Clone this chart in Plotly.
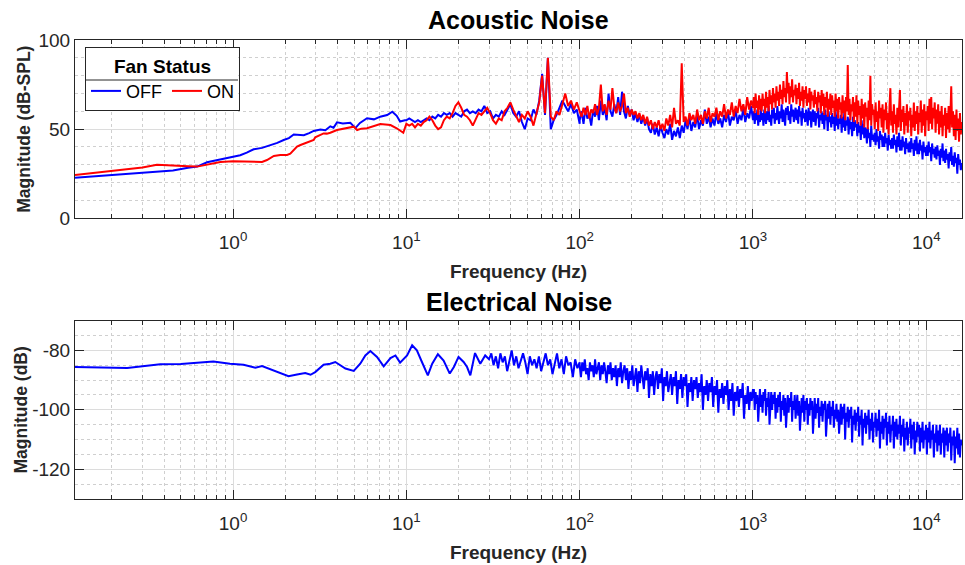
import numpy as np
import plotly.graph_objects as go

# ---------------- Acoustic noise : fan OFF ----------------
ac_off_low_f = [0.1225, 0.2, 0.3, 0.364, 0.45, 0.55, 0.62, 0.708, 0.845, 1.0, 1.1, 1.2, 1.315,
                1.47, 1.64, 1.8, 1.96, 2.1, 2.24, 2.45, 2.56, 2.75, 2.92, 3.19, 3.41, 3.64, 3.8,
                3.98, 4.3, 4.75, 5.08, 5.4, 5.93, 6.5, 7.07, 7.75, 8.3, 8.8, 9.2, 9.8]
ac_off_low = [22.8, 24.2, 25.3, 25.8, 26.8, 28.3, 29.0, 31.4, 33.1, 34.5, 35.4, 36.8, 38.7,
              39.5, 41.0, 42.3, 43.9, 45.0, 47.0, 46.7, 46.6, 47.8, 49.0, 49.8, 49.4, 51.6, 50.8,
              53.8, 53.2, 53.6, 50.6, 53.5, 56.1, 55.5, 57.0, 57.9, 59.8, 57.5, 54.3, 55.0]
# 10 Hz -> 100 Hz
ac_off_b = [55, 56, 55, 54, 55, 54, 55, 56, 55, 57, 56, 58, 57, 59, 58, 59, 57, 59, 58, 57,
            60, 61, 59, 60, 59, 61, 60, 63, 59, 60, 56, 58, 57, 60, 58, 61, 64, 59, 57, 60,
            54, 50, 56, 55, 61, 58, 66, 81, 58, 90, 50, 55, 58, 62, 66, 63, 60, 64, 59, 61, 53]
# 100 Hz -> 1 kHz
ac_off_c = [55, 60, 53, 62, 56, 58, 52, 61, 57, 63, 55,
            66, 58, 62, 55, 70, 60, 57, 64, 59, 68,
            58, 71, 60, 56, 63, 58, 61, 55, 59, 54,
            58, 53, 57, 52, 56, 50, 48, 53, 47, 51,
            46, 52, 48, 45, 50, 47, 53, 44, 49, 46,
            51, 45, 52, 48, 55, 50, 57, 49, 54, 51,
            58, 50, 55, 52, 61, 53, 57, 51, 56, 52,
            59, 53, 56, 51, 58, 54, 60, 52, 57, 55,
            61, 53, 58, 55, 62, 54, 59, 56, 63, 55]
# 1 kHz -> 16 kHz
ac_off_d = [56, 60, 53, 59, 55, 61, 52, 58, 54, 62,
            55, 59, 52, 61, 57, 53, 60, 55, 63, 54,
            58, 52, 61, 56, 62, 53, 59, 55, 63, 57,
            53, 60, 56, 64, 54, 61, 57, 52, 62, 58,
            63, 55, 60, 53, 64, 57, 61, 54, 59, 62,
            55, 61, 53, 63, 57, 60, 52, 62, 56, 59,
            54, 61, 57, 52, 62, 55, 60, 51, 58, 61,
            54, 60, 52, 59, 56, 62, 51, 58, 55, 60,
            53, 59, 50, 61, 55, 58, 49, 60, 54, 57,
            51, 59, 53, 57, 49, 60, 52, 58, 50, 56,
            53, 58, 48, 57, 51, 59, 49, 55, 52, 57,
            47, 56, 50, 54, 46, 57, 49, 55, 51, 53,
            46, 54, 48, 52, 44, 55, 47, 53, 45, 51,
            49, 42, 51, 45, 48, 40, 52, 44, 47, 43,
            48, 41, 50, 43, 46, 39, 49, 44, 47, 40,
            46, 40, 48, 42, 45, 38, 47, 41, 44, 39,
            45, 39, 47, 41, 44, 37, 46, 40, 48, 38,
            44, 38, 46, 40, 43, 36, 45, 39, 42, 37,
            43, 37, 45, 39, 42, 35, 44, 38, 46, 36,
            42, 36, 44, 38, 41, 33, 43, 37, 40, 35,
            41, 35, 43, 37, 40, 32, 42, 36, 39, 34,
            40, 33, 41, 35, 38, 30, 39, 34, 42, 32,
            38, 31, 39, 33, 36, 28, 37, 32, 40, 30,
            35, 29, 37, 31, 34, 25, 36, 30, 33, 27, 31]

# ---------------- Acoustic noise : fan ON ----------------
ac_on_low_f = [0.1225, 0.2, 0.3, 0.364, 0.45, 0.55, 0.62, 0.708, 0.845, 1.0, 1.1, 1.315, 1.47,
               1.57, 1.72, 1.875, 2.05, 2.14, 2.34, 2.45, 2.67, 2.92, 2.98, 3.33, 3.48, 3.64,
               3.98, 4.5, 4.97, 5.2, 5.5, 5.93, 6.5, 7.07, 8.1, 8.8, 9.6]
ac_on_low = [24.3, 26.5, 28.5, 30.0, 29.8, 29.2, 29.0, 30.2, 31.6, 32.0, 31.8, 31.5, 31.6,
             32.7, 35.0, 35.5, 35.5, 36.2, 40.2, 41.1, 42.4, 43.9, 45.4, 47.6, 47.5, 48.0,
             49.5, 50.6, 51.4, 49.5, 50.3, 50.5, 51.8, 52.9, 52.3, 50.5, 48.0]
ac_on_b = [53, 52, 53, 51, 53, 52, 54, 55, 57, 55, 52, 50, 51, 55, 57, 56, 59, 63, 65, 62,
           58, 57, 55, 52, 56, 59, 58, 60, 62, 59, 55, 53, 56, 55, 60, 62, 65, 61, 57, 54,
           58, 56, 60, 57, 52, 59, 65, 80, 59, 90, 57, 55, 60, 58, 64, 70, 63, 66, 61, 65, 60]
ac_on_c = [60, 57, 62, 58, 63, 56, 61, 59, 64, 58, 62,
           75, 60, 64, 58, 66, 61, 73, 62, 59, 65,
           60, 63, 70, 59, 62, 57, 61, 58, 60, 56,
           59, 55, 58, 53, 57, 52, 55, 50, 54, 51,
           55, 50, 53, 49, 56, 52, 58, 51, 62, 53,
           55, 52, 87, 54, 57, 52, 59, 55, 58, 53,
           61, 55, 58, 53, 60, 56, 62, 54, 59, 57,
           62, 55, 60, 57, 64, 56, 61, 58, 65, 57,
           63, 59, 67, 60, 64, 58, 68, 61, 66, 62]
ac_on_d = [63, 68, 59, 70, 62, 66, 58, 69, 61, 67,
           60, 70, 63, 67, 59, 71, 62, 68, 60, 72,
           64, 69, 61, 73, 65, 70, 62, 74, 66, 71,
           63, 75, 67, 72, 64, 77, 68, 73, 65, 82,
           70, 76, 64, 74, 68, 78, 65, 72, 69, 75,
           64, 73, 67, 76, 63, 71, 66, 74, 62, 72,
           67, 74, 63, 70, 65, 73, 61, 71, 66, 69,
           62, 72, 64, 68, 60, 71, 65, 69, 59, 72,
           63, 70, 58, 68, 62, 71, 57, 67, 61, 70,
           58, 69, 62, 66, 57, 70, 60, 67, 56, 68,
           61, 65, 56, 69, 59, 66, 55, 68, 60, 86,
           58, 67, 55, 64, 60, 68, 54, 65, 57, 69,
           53, 66, 58, 63, 52, 67, 56, 64, 51, 65,
           57, 62, 50, 66, 55, 80, 52, 64, 58, 61,
           50, 65, 54, 60, 49, 66, 56, 62, 51, 64,
           48, 61, 55, 65, 50, 59, 47, 63, 73, 52,
           60, 48, 64, 53, 58, 47, 62, 51, 65, 72,
           49, 61, 54, 63, 47, 59, 52, 64, 48, 60,
           55, 62, 46, 58, 51, 65, 49, 60, 53, 63,
           47, 59, 54, 66, 48, 61, 52, 64, 46, 60,
           55, 63, 49, 67, 53, 68, 50, 62, 56, 65,
           48, 61, 53, 64, 47, 60, 51, 63, 46, 58,
           52, 62, 45, 59, 50, 63, 48, 57, 74, 51,
           60, 46, 58, 44, 61, 49, 56, 43, 59, 47, 54]

# ---------------- Electrical noise ----------------
el_low_f = [0.1225, 0.245, 0.38, 0.5, 0.77, 0.96, 1.15, 1.345, 1.47, 1.72, 2.09, 2.34, 2.61,
            2.8, 2.98, 3.33, 3.64, 3.89, 4.45, 4.97, 5.42, 5.8, 6.2, 6.77, 7.4, 8.1, 8.65, 9.2,
            10.1, 10.8, 11.5, 12.3, 13.3, 14.1, 15.2, 16.4, 17.8, 18.8, 20.0, 21.4, 22.4, 23.4,
            24.9, 26.7, 28.5]
el_low = [-85.6, -85.9, -84.7, -84.6, -83.7, -84.5, -84.8, -85.8, -85.3, -86.7, -88.7, -88.1,
          -87.6, -88.2, -87.3, -84.8, -84.5, -83.9, -86.1, -86.9, -84.5, -81.7, -80.2, -82.2,
          -85.4, -82.6, -81.7, -84.1, -81.7, -78.3, -80.0, -83.9, -88.4, -84.5, -81.3, -83.4,
          -87.8, -85.6, -82.2, -83.9, -85.6, -88.4, -80.9, -84.5, -81.7]
# 30 Hz -> 100 Hz
el_b = [-83, -81, -85, -82, -86, -81, -84, -82, -87, -83,
        -80, -85, -82, -86, -83, -81, -84, -88, -82, -85,
        -83, -86, -82, -87, -84, -81, -85, -83, -88, -84,
        -81, -86, -83, -88, -82, -85, -84, -89, -83, -86, -84]
# 100 Hz -> 1 kHz
el_c = [-85, -89, -84, -87, -83, -88, -86, -90, -84, -87,
        -85, -89, -83, -88, -86, -84, -90, -85, -88, -84,
        -87, -91, -85, -88, -84, -90, -86, -89, -85, -92,
        -86, -89, -84, -91, -87, -85, -90, -86, -93, -87,
        -90, -85, -92, -88, -86, -94, -87, -91, -85, -89,
        -93, -87, -90, -86, -96, -88, -92, -87, -95, -89,
        -87, -93, -88, -91, -86, -97, -89, -92, -87, -94,
        -90, -88, -95, -89, -92, -87, -98, -90, -93, -88,
        -96, -89, -92, -88, -99, -91, -94, -89, -97, -90,
        -93, -89, -96, -91, -94, -88, -100, -92, -95, -90,
        -97, -91, -94, -89, -99, -92, -95, -90, -101, -93,
        -96, -91, -98, -92, -95, -90, -100, -93, -97, -91,
        -102, -94, -97, -92, -99, -93, -96, -91, -103, -95,
        -98, -92, -100, -94, -97, -93]
# 1 kHz -> 16 kHz
el_d = [-96, -93, -100, -94, -98, -95, -104, -96, -93, -99,
        -95, -101, -94, -97, -93, -102, -96, -99, -94, -105,
        -97, -94, -100, -95, -98, -94, -103, -96, -101, -95,
        -99, -94, -104, -97, -100, -95, -102, -96, -106, -98,
        -95, -101, -96, -99, -94, -104, -97, -100, -95, -103,
        -98, -95, -102, -97, -107, -99, -96, -101, -95, -104,
        -97, -100, -96, -105, -98, -102, -96, -100, -97, -108,
        -99, -96, -103, -98, -101, -96, -106, -99, -102, -97,
        -104, -98, -100, -97, -109, -101, -98, -103, -97, -105,
        -99, -102, -97, -106, -100, -103, -98, -104, -100, -108,
        -101, -98, -105, -99, -103, -98, -110, -101, -104, -99,
        -106, -100, -103, -99, -111, -102, -105, -100, -107, -101,
        -104, -99, -109, -102, -105, -100, -112, -103, -106, -101,
        -108, -102, -105, -100, -110, -103, -107, -101, -111, -104,
        -106, -101, -109, -103, -107, -100, -113, -104, -108, -102,
        -110, -103, -106, -101, -112, -104, -108, -102, -111, -105,
        -107, -102, -113, -104, -109, -103, -110, -105, -108, -102,
        -112, -105, -109, -103, -114, -106, -110, -104, -112, -106,
        -108, -103, -113, -105, -110, -104, -115, -107, -111, -104,
        -109, -105, -114, -106, -111, -104, -113, -107, -110, -105,
        -115, -106, -111, -104, -113, -107, -110, -105, -116, -108,
        -111, -105, -114, -107, -112, -105, -115, -108, -111, -106,
        -116, -107, -112, -106, -114, -108, -111, -106, -117, -109,
        -112, -107, -118, -109, -113, -106, -115, -108, -116, -110, -112]

x_tick_vals = [1, 10, 100, 1000, 10000]
x_tick_text = ["10<sup>0</sup>", "10<sup>1</sup>", "10<sup>2</sup>", "10<sup>3</sup>", "10<sup>4</sup>"]
ac_tick_vals = [0, 50, 100]
ac_tick_text = ["0", "50", "100"]
el_tick_vals = [-120, -100, -80]
el_tick_text = ["-120", "-100", "-80"]


def seg(f0, f1, vals):
    return list(np.geomspace(f0, f1, len(vals)))


x_off = ac_off_low_f + seg(10, 100, ac_off_b) + seg(100, 1000, ac_off_c) + seg(1000, 16000, ac_off_d)
y_off = ac_off_low + ac_off_b + ac_off_c + ac_off_d
x_on = ac_on_low_f + seg(10, 100, ac_on_b) + seg(100, 1000, ac_on_c) + seg(1000, 16000, ac_on_d)
y_on = ac_on_low + ac_on_b + ac_on_c + ac_on_d
x_el = el_low_f + seg(30, 100, el_b) + seg(100, 1000, el_c) + seg(1000, 16000, el_d)
y_el = el_low + el_b + el_c + el_d

FONT = "Arial, Liberation Sans, sans-serif"
AX = "#262626"
GRID = "#DCDCDC"
MGRID = "#CFCFCF"
LW = 2.0

fig = go.Figure()
fig.add_trace(go.Scatter(x=x_off, y=y_off, mode="lines", name="OFF",
                         line=dict(color="#0000FF", width=LW), xaxis="x", yaxis="y"))
fig.add_trace(go.Scatter(x=x_on, y=y_on, mode="lines", name="ON",
                         line=dict(color="#FF0000", width=LW), xaxis="x", yaxis="y"))
fig.add_trace(go.Scatter(x=x_el, y=y_el, mode="lines", name="Electrical", showlegend=False,
                         line=dict(color="#0000FF", width=LW), xaxis="x2", yaxis="y2"))

minor_x = [m * 10.0 ** e for e in range(-1, 5) for m in range(2, 10)]

xcommon = dict(type="log", range=[np.log10(0.1225), np.log10(16070)],
               tickmode="array", tickvals=x_tick_vals, ticktext=x_tick_text,
               ticks="inside", ticklen=9, tickwidth=1, tickcolor=AX,
               showline=True, linecolor=AX, linewidth=1, mirror="ticks",
               showgrid=True, gridcolor=GRID, gridwidth=1, zeroline=False,
               tickfont=dict(family=FONT, size=19, color="#262626"),
               ticklabelstandoff=7,
               minor=dict(tickmode="array", tickvals=minor_x, ticks="inside", ticklen=4,
                          tickcolor=AX, showgrid=True, gridcolor=MGRID, griddash="dot", gridwidth=1),
               automargin=False)

ycommon = dict(ticks="inside", ticklen=9, tickwidth=1, tickcolor=AX,
               showline=True, linecolor=AX, linewidth=1, mirror="ticks",
               showgrid=True, gridcolor=GRID, gridwidth=1, zeroline=False,
               tickfont=dict(family=FONT, size=19, color="#262626"),
               automargin=False)

# legend frame (px -> paper)
PL, PW, PB, PH = 75, 887, 499, 459
lg_x0 = (85 - PL) / PW
lg_x1 = (238 - PL) / PW
lg_y0 = (PB - 112) / PH
lg_y1 = (PB - 47) / PH
sep_y = (PB - 80) / PH

fig.update_layout(
    width=965, height=565,
    margin=dict(l=75, r=3, t=40, b=66),
    paper_bgcolor="white", plot_bgcolor="white",
    font=dict(family=FONT, color="#262626"),
    showlegend=True,
    xaxis=dict(**xcommon, domain=[0, 1], anchor="y",
               title=dict(text="Frequency (Hz)", font=dict(family=FONT, size=19, weight="bold"), standoff=12)),
    yaxis=dict(**ycommon, domain=[0.6115, 1.0], anchor="x", range=[0, 100],
               tickmode="array", tickvals=ac_tick_vals, ticktext=ac_tick_text,
               minor=dict(tickmode="array", tickvals=list(range(0, 101, 10)), ticks="",
                          showgrid=True, gridcolor=MGRID, griddash="dot", gridwidth=1),
               title=dict(text="Magnitude (dB-SPL)", font=dict(family=FONT, size=17.5, weight="bold"), standoff=3)),
    xaxis2=dict(**xcommon, domain=[0, 1], anchor="y2",
                title=dict(text="Frequency (Hz)", font=dict(family=FONT, size=19, weight="bold"), standoff=12)),
    yaxis2=dict(**ycommon, domain=[0.0, 0.3885], anchor="x2", range=[-130, -70],
                tickmode="array", tickvals=el_tick_vals, ticktext=el_tick_text,
                minor=dict(tickmode="array", tickvals=list(range(-130, -69, 5)), ticks="",
                           showgrid=True, gridcolor=MGRID, griddash="dot", gridwidth=1),
                title=dict(text="Magnitude (dB)", font=dict(family=FONT, size=17.5, weight="bold"), standoff=0)),
    legend=dict(x=lg_x0, y=lg_y1, xanchor="left", yanchor="top",
                orientation="h", bgcolor="rgba(0,0,0,0)", bordercolor=AX, borderwidth=1,
                font=dict(family=FONT, size=18, color="black"),
                title=dict(text="<b>Fan Status</b>", side="top center",
                           font=dict(family=FONT, size=19, color="black"))),
    shapes=[
        dict(type="rect", xref="paper", yref="paper", x0=lg_x0, x1=lg_x1, y0=lg_y0, y1=lg_y1,
             fillcolor="white", line=dict(width=0), layer="above"),
        dict(type="line", xref="paper", yref="paper", x0=lg_x0, x1=lg_x1,
             y0=sep_y, y1=sep_y, line=dict(color=AX, width=1), layer="above"),
    ],
    annotations=[
        dict(text="<b>Acoustic Noise</b>", x=0.5, y=(PB - 20) / PH, xref="paper", yref="paper",
             showarrow=False, xanchor="center", yanchor="middle",
             font=dict(family=FONT, size=25, color="black")),
        dict(text="<b>Electrical Noise</b>", x=0.5, y=(PB - 302) / PH, xref="paper", yref="paper",
             showarrow=False, xanchor="center", yanchor="middle",
             font=dict(family=FONT, size=25, color="black")),
    ],
)

fig.write_html("out.html")
